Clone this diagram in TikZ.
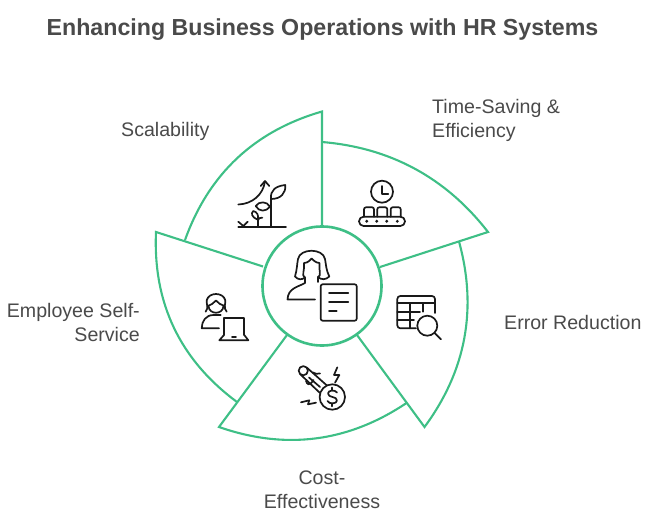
\documentclass[tikz,border=0pt]{standalone}
\usepackage{fontspec}
\setmainfont{Liberation Sans}
\definecolor{petalgreen}{HTML}{3EBF86}
\definecolor{labelgray}{HTML}{4A4A4A}
\begin{document}
\begin{tikzpicture}[
    x=1pt,
    y=-1pt,
    petal/.style={
      draw=petalgreen,
      line width=2.1pt,
      line join=miter
    },
    hub/.style={
      circle,
      draw=petalgreen,
      line width=2.6pt,
      minimum size=119pt,
      inner sep=0pt
    },
    glyph/.style={
      draw=black!90,
      line width=1.7pt,
      line cap=round,
      line join=round
    },
    label/.style={
      font=\fontsize{19.6}{24}\selectfont,
      text=labelgray,
      inner sep=0pt
    }
  ]

    \useasboundingbox (0,0) rectangle (645,524);

    % Title
    \node[font=\fontsize{23.2}{26}\selectfont\bfseries, text=labelgray, inner sep=0pt, anchor=base] (title) at (322.5,36) {Enhancing Business Operations with HR Systems};

    % Corners of the petals
    \coordinate (hubtop) at (322,227);
    \coordinate (hubright) at (380,267);
    \coordinate (hubdownright) at (357,335);
    \coordinate (hubdownleft) at (287,335);
    \coordinate (hubleft) at (263,266.5);
    \coordinate (scaletip) at (322,111.5);
    \coordinate (scaleend) at (185,240);
    \coordinate (timestart) at (322,142);
    \coordinate (timetip) at (488,232);
    \coordinate (errorstart) at (459,241.5);
    \coordinate (errortip) at (424.5,427);
    \coordinate (coststart) at (219,427);
    \coordinate (costend) at (406.5,403);
    \coordinate (selftip) at (156,232);
    \coordinate (selfend) at (237,402);

    % Petals
    \draw[petal] (hubtop) -- (scaletip) .. controls (254.5,131) and (208.8,173.8) .. (scaleend);
    \draw[petal] (timestart) .. controls (390.5,147.7) and (445.9,177.7) .. (timetip) -- (hubright);
    \draw[petal] (errorstart) .. controls (477.5,308.9) and (466,370.8) .. (errortip) -- (hubdownright);
    \draw[petal] (hubdownleft) -- (coststart) .. controls (285.5,450.2) and (348,442.2) .. (costend);
    \draw[petal] (hubleft) -- (selftip) .. controls (152.9,303) and (179.9,359.7) .. (selfend);

    % Central circle
    \node[hub, fill=white] (hub) at (322,286) {};

    % Central icon: person with a sheet
    \draw[glyph] (318,277) .. controls (321,280) and (326,280) .. (329.3,276.5) .. controls (326,270) and (326,264) .. (325,259) .. controls (323,248) and (300,248) .. (298,259) .. controls (297,264) and (297,270) .. (295,276.5) .. controls (298,280) and (302,280) .. (305,277.5) -- (305,283) .. controls (298,287) and (288,288) .. (287.5,299.5) -- (315,299.5);
    \draw[glyph] (305,277.5) .. controls (301,276) and (305,270) .. (304,263) .. controls (308,263) and (310,260) .. (311.7,258.5) .. controls (313,260) and (316,263) .. (319.5,263) .. controls (318.5,270) and (322,276) .. (318,277) -- (318,282);
    \draw[glyph, rounded corners=2pt] (320.7,284.3) rectangle (356.7,320.7);
    \draw[glyph] (329,292.7) -- (348.3,292.7);
    \draw[glyph] (329,302) -- (348.3,302);
    \draw[glyph] (329,311) -- (336.7,311);

    % Scalability icon: plant and arrow
    \draw[glyph] (238.3,226.7) -- (286,226.7);
    \draw[glyph] (271,226.7) -- (271,199);
    \draw[glyph] (271,199) .. controls (270,190) and (276,186) .. (285.3,185) .. controls (286,193) and (281,199) .. (271,199);
    \draw[glyph] (255.7,206) .. controls (259,201) and (267,201) .. (270,206.7) .. controls (266,212) and (259,212) .. (255.7,206);
    \draw[glyph] (257.7,226.7) -- (257.7,218);
    \draw[glyph] (257.7,219.5) .. controls (251,217) and (251,213) .. (253.3,211) .. controls (257,212) and (259,215) .. (257.7,219.5);
    \draw[glyph] (257.7,221) .. controls (258,218) and (260,217.5) .. (262.3,217.7);
    \draw[glyph] (238.3,204.5) .. controls (252,204) and (263,195) .. (265,181.5);
    \draw[glyph] (260.7,186) -- (265,181) -- (269.3,186);
    \draw[glyph] (238.3,221.7) -- (243.3,226) -- (247.7,221.7);

    % Time icon: clock over conveyor
    \draw[glyph] (382,191.7) circle (11);
    \draw[glyph] (382,186) -- (382,194) -- (388.3,194);
    \draw[glyph, rounded corners=4.6pt] (359,216.7) rectangle (405,226);
    \foreach \boxx in {364,377.3,390.7} {
      \draw[glyph, rounded corners=2pt] (\boxx,216.7) -- (\boxx,207.3) -- (\boxx+10,207.3) -- (\boxx+10,216.7);
    }
    \foreach \dotx in {366.7,376.7,386.7,397.3} {
      \fill[black!90] (\dotx,221.3) circle (1.6);
    }

    % Error icon: table and magnifier
    \draw[glyph, rounded corners=3pt] (435,313) -- (435,296) -- (397.3,296) -- (397.3,328.3) -- (416,328.3);
    \draw[glyph] (397.3,303.3) -- (435,303.3);
    \draw[glyph] (397.3,311.7) -- (420,311.7);
    \draw[glyph] (397.3,320) -- (414,320);
    \draw[glyph] (410,303.3) -- (410,328.3);
    \draw[glyph] (423.3,303.3) -- (423.3,311.7);
    \draw[glyph] (427.3,325.7) circle (10);
    \draw[glyph] (434.4,332.8) -- (441,339.3);

    % Cost icon: thermometer and coin
    \draw[glyph] (332.3,397) circle (12.7);
    \draw[glyph] (303.3,370.7) circle (4.6);
    \draw[glyph] (306.7,367.5) -- (326.7,385.3);
    \draw[glyph] (300.3,374.3) -- (320,393);
    \draw[glyph] (309,377.5) -- (320,387);
    \draw[glyph] (313,372.5) .. controls (315,375) and (317,373) .. (320,373.5);
    \draw[glyph] (306,381) .. controls (307,384) and (309,387) .. (313.5,380);
    \draw[glyph] (337.3,367.3) -- (334,375) -- (339.3,375) -- (335,382.7);
    \draw[glyph] (301,402.3) -- (309.3,400.3) -- (308,404.3) -- (316,402.7);
    \draw[glyph] (337,392.5) .. controls (335,389.5) and (328,390) .. (328,393.5) .. controls (328,398) and (337,396) .. (337,400.5) .. controls (337,404) and (329,404.5) .. (327.5,401);
    \draw[glyph] (332.3,387.5) -- (332.3,389.8);
    \draw[glyph] (332.3,403.8) -- (332.3,406.3);

    % Employee icon: person at laptop
    \draw[glyph] (205.7,311.7) .. controls (209,308) and (206,303) .. (206.8,300) .. controls (209,292) and (223,292) .. (225.2,300) .. controls (226,303) and (223,308) .. (226.7,311.7);
    \draw[glyph] (207.3,306) .. controls (211,305) and (214,303) .. (216,300.5) .. controls (218,303) and (221,305) .. (224.5,306);
    \draw[glyph] (208.5,306) .. controls (209,315) and (223,315) .. (223.5,306);
    \draw[glyph] (220.7,315) -- (213.5,315) .. controls (206,315) and (201.7,321) .. (201.7,328.3) -- (219,328.3);
    \draw[glyph] (224,335) -- (224,318.3) -- (244.3,318.3) -- (244.3,335);
    \draw[glyph] (224,335) -- (219.3,340.3) -- (248.3,340.3) -- (244.3,335);
    \draw[glyph] (232,336.8) -- (236,336.8);

    % Labels
    \node[label, anchor=base west] (scalability) at (121,137) {Scalability};
    \node[label, anchor=north west, align=left] (timesaving) at (432,99) {Time-Saving \&\\Efficiency};
    \node[label, anchor=base west] (errorreduction) at (504,329) {Error Reduction};
    \node[label, anchor=north, align=center] (costeffect) at (322,471) {Cost-\\Effectiveness};
    \node[label, anchor=north east, align=right] (selfservice) at (140,303) {Employee Self-\\Service};

  \end{tikzpicture}
\end{document}
